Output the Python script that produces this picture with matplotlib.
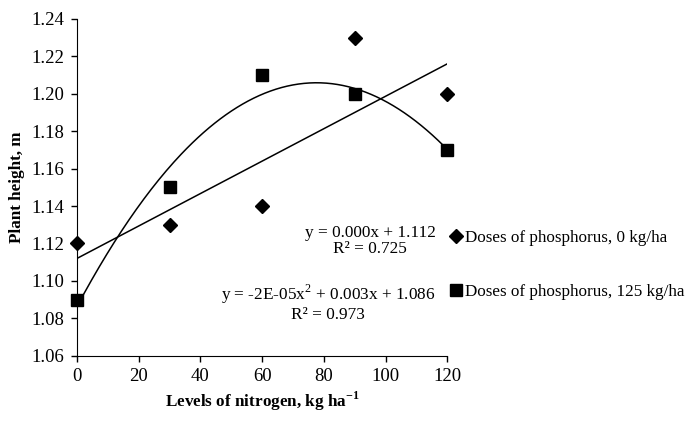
import matplotlib.pyplot as plt
import numpy as np

plt.rcParams['font.family'] = ['Liberation Serif', 'DejaVu Serif']
plt.rcParams['mathtext.fontset'] = 'custom'
plt.rcParams['mathtext.rm'] = 'Liberation Serif'
plt.rcParams['mathtext.bf'] = 'Liberation Serif:bold'

nitrogen = [0, 30, 60, 90, 120]
p0_height = [1.12, 1.13, 1.14, 1.23, 1.20]     # phosphorus 0 kg/ha
p125_height = [1.09, 1.15, 1.21, 1.20, 1.17]   # phosphorus 125 kg/ha
labels = ['Doses of phosphorus, 0 kg/ha', 'Doses of phosphorus, 125 kg/ha']
eq_lin = 'y = 0.000x + 1.112\nR² = 0.725'
eq_quad = 'y = -2E-05x$^{2}$ + 0.003x + 1.086\nR² = 0.973'

fig = plt.figure(figsize=(6.87, 4.21), dpi=100)
ax = fig.add_axes([0.112, 0.155, 0.539, 0.800])

x = np.array(nitrogen, dtype=float)
xs = np.linspace(0, 120, 200)
# trend lines (linear for P0, 2nd order for P125)
lin = np.polyfit(x, p0_height, 1)
quad = np.polyfit(x, p125_height, 2)
ax.plot(xs, np.polyval(lin, xs), color='black', lw=1.1)
ax.plot(xs, np.polyval(quad, xs), color='black', lw=1.1)

h1, = ax.plot(x, p0_height, 'D', color='black', ms=7.5, clip_on=False, zorder=3)
h2, = ax.plot(x, p125_height, 's', color='black', ms=9, clip_on=False, zorder=3)

ax.set_xlim(0, 120)
ax.set_ylim(1.06, 1.24)
ax.set_xticks(np.arange(0, 121, 20))
ax.set_yticks(np.arange(1.06, 1.241, 0.02))
ax.yaxis.set_major_formatter(plt.FormatStrFormatter('%.2f'))
for s in ['top', 'right']:
    ax.spines[s].set_visible(False)
ax.tick_params(direction='out', length=4, width=1, labelsize=13.5, pad=5)
ax.set_xlabel('Levels of nitrogen, kg ha$^{\\mathbf{-1}}$', fontsize=12.3,
              fontweight='bold', labelpad=3)
ax.set_ylabel('Plant height, m', fontsize=12.3, fontweight='bold', labelpad=5)

ax.text(0.968, 0.341, eq_lin, transform=ax.transAxes, ha='right', va='center',
        multialignment='center', fontsize=12.4, linespacing=1.05)
ax.text(0.968, 0.157, eq_quad, transform=ax.transAxes, ha='right', va='center',
        multialignment='center', fontsize=12.4, linespacing=1.05)

fig.legend([h1, h2], labels, loc='upper left', bbox_to_anchor=(0.657, 0.453),
           frameon=False, fontsize=12.3, handlelength=0.55, handletextpad=0.25,
           labelspacing=2.2, markerscale=0.9, borderaxespad=0, borderpad=0)

fig.savefig('out.png', dpi=100)
